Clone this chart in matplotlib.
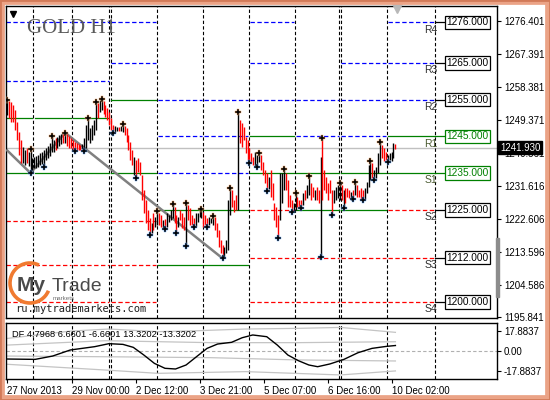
"""
Graphique GOLD H1 : barres horaires, niveaux pivots journaliers et indicateur DF
"""

import matplotlib
matplotlib.use("Agg")
import matplotlib.pyplot as plt
import matplotlib.transforms as mtransforms
from matplotlib.patches import Rectangle, Arc

# Barres H1 (index de barre = position en x)
hauts = [
    1254.9, 1254.6, 1254.4, 1253.5, 1252.2, 1248.9, 1246.2, 1244.0, 1242.1, 1241.3,
    1241.8, 1240.8, 1241.6, 1239.1, 1239.4, 1239.7, 1239.9, 1240.5, 1240.8, 1241.3,
    1241.8, 1242.4, 1243.2, 1245.1, 1244.0, 1244.6, 1244.8, 1245.4, 1245.7, 1245.7,
    1246.0, 1245.7, 1245.1, 1244.6, 1244.0, 1243.5, 1243.2, 1242.9, 1242.7, 1242.9,
    1244.6, 1248.1, 1250.0, 1247.3, 1248.1, 1249.5, 1254.4, 1254.1, 1254.9, 1255.2,
    1254.6, 1253.5, 1252.7, 1251.6, 1250.0, 1248.1, 1247.8, 1247.6, 1247.6, 1247.8,
    1248.4, 1247.8, 1247.3, 1245.4, 1243.5, 1241.3, 1239.4, 1238.6, 1239.1, 1238.0,
    1234.5, 1230.4, 1227.7, 1225.0, 1222.8, 1221.4, 1224.1, 1223.1, 1224.7, 1224.1,
    1223.6, 1222.2, 1222.5, 1224.1, 1223.6, 1225.0, 1226.5, 1225.8, 1223.6, 1223.1,
    1225.0, 1224.1, 1223.1, 1226.8, 1226.3, 1225.5, 1223.6, 1222.8, 1224.1, 1224.1,
    1225.0, 1225.2, 1224.4, 1223.6, 1222.8, 1223.1, 1222.8, 1223.3, 1223.1, 1221.4,
    1219.5, 1216.8, 1215.4, 1214.9, 1216.8, 1227.7, 1230.9, 1230.4, 1227.7, 1229.0,
    1251.7, 1249.5, 1248.6, 1247.6, 1244.8, 1244.0, 1241.8, 1240.5, 1239.4, 1240.8,
    1239.9, 1240.6, 1239.9, 1238.0, 1235.9, 1235.0, 1233.9, 1235.9, 1232.3, 1226.9,
    1225.8, 1223.6, 1235.0, 1235.0, 1236.1, 1235.0, 1233.1, 1229.0, 1227.7, 1226.9,
    1229.5, 1228.5, 1227.7, 1227.7, 1229.6, 1230.4, 1231.8, 1234.2, 1232.3, 1231.2,
    1230.4, 1231.2, 1230.4, 1239.4, 1244.5, 1235.9, 1233.9, 1232.3, 1233.1, 1230.4,
    1230.4, 1231.2, 1231.8, 1232.4, 1231.8, 1230.4, 1231.0, 1231.0, 1230.4, 1229.9,
    1230.4, 1232.5, 1231.8, 1230.4, 1231.0, 1230.4, 1231.0, 1232.6, 1237.2, 1238.3,
    1237.8, 1235.9, 1236.7, 1240.5, 1243.4, 1242.7, 1241.8, 1240.8, 1239.9, 1240.5,
    1240.8, 1243.2, 1243.0,
]
bas = [
    1250.8, 1250.0, 1248.9, 1248.9, 1246.7, 1244.0, 1239.9, 1237.8, 1237.8, 1237.2,
    1237.8, 1236.9, 1235.0, 1235.9, 1236.4, 1236.4, 1236.7, 1237.2, 1237.5, 1236.7,
    1238.6, 1239.1, 1239.7, 1240.8, 1240.8, 1241.3, 1241.8, 1242.4, 1242.9, 1243.2,
    1243.2, 1242.4, 1241.8, 1241.8, 1241.3, 1240.9, 1241.3, 1241.3, 1241.3, 1241.6,
    1241.0, 1241.8, 1244.0, 1243.2, 1244.0, 1245.4, 1246.7, 1250.0, 1251.6, 1252.2,
    1251.1, 1250.3, 1249.5, 1248.1, 1246.7, 1245.9, 1246.2, 1246.5, 1246.5, 1246.5,
    1246.2, 1245.4, 1243.5, 1241.3, 1238.6, 1237.2, 1234.5, 1233.7, 1235.3, 1234.5,
    1227.7, 1224.1, 1221.4, 1219.5, 1218.1, 1218.7, 1219.5, 1220.3, 1220.9, 1220.9,
    1220.3, 1220.1, 1219.7, 1220.3, 1221.7, 1222.2, 1222.8, 1221.4, 1218.6, 1220.3,
    1222.2, 1220.1, 1219.5, 1215.2, 1222.2, 1220.9, 1220.9, 1220.2, 1220.6, 1221.7,
    1223.1, 1222.8, 1220.3, 1220.9, 1220.2, 1220.9, 1221.4, 1220.9, 1219.5, 1217.6,
    1214.9, 1213.3, 1211.8, 1211.9, 1213.3, 1214.1, 1223.6, 1225.8, 1224.4, 1225.0,
    1225.0, 1243.2, 1242.1, 1244.0, 1240.5, 1238.6, 1237.8, 1238.0, 1237.2, 1236.9,
    1236.6, 1238.0, 1235.9, 1234.5, 1232.3, 1230.2, 1230.7, 1228.5, 1227.7, 1222.2,
    1220.3, 1217.3, 1222.2, 1226.9, 1230.4, 1230.4, 1225.8, 1225.8, 1224.3, 1224.7,
    1224.9, 1225.8, 1225.8, 1225.5, 1226.3, 1227.7, 1228.2, 1229.0, 1227.7, 1228.5,
    1227.7, 1227.7, 1226.9, 1212.3, 1227.7, 1230.4, 1229.6, 1227.7, 1229.6, 1223.5,
    1226.9, 1227.7, 1228.2, 1227.7, 1227.7, 1225.4, 1226.9, 1228.5, 1228.2, 1227.7,
    1227.9, 1229.0, 1228.5, 1228.5, 1227.7, 1227.7, 1228.0, 1229.6, 1231.2, 1233.1,
    1233.7, 1233.1, 1233.7, 1235.0, 1237.2, 1239.1, 1238.3, 1238.6, 1238.1, 1238.6,
    1238.3, 1239.1, 1241.6,
]
# 1 = barre haussière (noire), 0 = baissière (rouge)
sens = [
    1, 0, 0, 0, 0, 0, 0, 0, 1, 1,  0, 1, 1, 1, 1, 1, 1, 1, 1, 1,
    1, 1, 1, 1, 1, 0, 1, 1, 1, 0,  1, 0, 0, 0, 0, 0, 0, 0, 0, 1,
    1, 1, 1, 1, 1, 1, 1, 0, 1, 1,  0, 0, 0, 0, 0, 0, 1, 1, 0, 1,
    1, 0, 0, 0, 0, 0, 1, 0, 0, 0,  0, 0, 0, 0, 0, 1, 0, 1, 1, 0,
    0, 1, 0, 1, 1, 1, 1, 0, 0, 1,  0, 0, 0, 1, 0, 0, 0, 0, 1, 1,
    1, 1, 0, 0, 0, 1, 1, 1, 0, 0,  0, 0, 0, 1, 1, 1, 1, 0, 0, 0,
    1, 0, 0, 0, 0, 0, 0, 0, 0, 1,  1, 1, 0, 0, 0, 0, 1, 0, 0, 0,
    0, 0, 1, 1, 1, 0, 0, 0, 0, 1,  1, 0, 0, 0, 1, 0, 1, 1, 0, 0,
    1, 0, 0, 1, 0, 0, 0, 0, 0, 0,  1, 1, 1, 1, 0, 1, 0, 0, 0, 1,
    0, 1, 0, 0, 0, 0, 1, 1, 1, 1,  0, 1, 1, 1, 1, 0, 0, 0, 1, 1,
    1, 1, 0,
]
prix_actuel = 1241.93

# Fractales (index des barres)
fractales_hautes = [0, 12, 23, 30, 42, 46, 49, 60, 78, 86, 93, 101, 107, 116, 120,
                    131, 144, 150, 157, 164, 173, 181, 189, 194]
fractales_basses = [12, 19, 35, 40, 55, 67, 74, 82, 88, 93, 97, 104, 112, 126, 130,
                    135, 141, 148, 153, 163, 169, 175, 180, 185, 191, 198]

# ZigZag gris
zigzag_x = [-0.6, 12, 30, 112]
zigzag_prix = [1241.4, 1235.0, 1246.0, 1211.8]

# Séparateurs de jours et bornes des journées
separateurs = [13.4, 33.6, 52.9, 53.9, 77.9, 101.8, 125.8, 149.7, 172.7, 173.7, 197.7, 222.7]
bornes_jours = [-0.8, 13.4, 33.6, 53.4, 77.9, 101.8, 125.8, 149.7, 173.2, 197.7, 222.7]

# Niveaux pivots : (prix, type) R = résistance, P = pivot proche, S = support
niv_a = [(1276, 'R'), (1260.1, 'R'), (1250, 'P'), (1235, 'P'), (1222, 'S'), (1210, 'S'), (1200, 'S')]
niv_b = [(1276, 'R'), (1265, 'R'), (1255, 'P'), (1235, 'P'), (1222, 'S'), (1210, 'S'), (1200, 'S')]
niv_c = [(1255, 'R'), (1245, 'R'), (1235, 'R'), (1225, 'P'), (1210, 'P')]
niv_d = [(1276, 'R'), (1265, 'R'), (1255, 'R'), (1245, 'P'), (1235, 'P'), (1225, 'S'), (1212, 'S'), (1200, 'S')]
niv_e = [(1255, 'R'), (1245, 'R'), (1235, 'P'), (1225, 'P'), (1212, 'S'), (1200, 'S')]
niv_f = [(1265, 'R'), (1255, 'R'), (1245, 'R'), (1235, 'P'), (1225, 'P'), (1212, 'S'), (1200, 'S')]
niv_g = [(1276, 'R'), (1265, 'R'), (1255, 'R'), (1245, 'P'), (1235, 'P'), (1225, 'S'), (1212, 'S'), (1200, 'S')]
niveaux_jours = [niv_a, niv_a, niv_a, niv_b, niv_c, niv_c, niv_d, niv_e, niv_f, niv_g]
noms_niveaux = ['R4', 'R3', 'R2', 'R1', 'S1', 'S2', 'S3', 'S4']

# Echelle de prix
graduations_prix = [1276.401, 1267.391, 1258.381, 1249.371, 1240.361,
                    1231.616, 1222.606, 1213.596, 1204.586, 1195.841]

# Indicateur DF
df_x = [0, 14.4, 23.5, 32.7, 45.4, 52.8, 60.1, 65.5, 71, 76.5, 82, 87.5, 93, 98.4,
        103.9, 109.4, 116.7, 122.2, 127.7, 135, 140.5, 146, 151.4, 156.9, 161.5,
        167.9, 175.2, 182.5, 189.8, 197.1, 202]
df_val = [-7.0, -7.3, -4.4, 0.9, 3.8, 6.4, 5.8, 3.2, -3.5, -10.8, -15.1, -15.7, -12.2,
          -5.0, 2.3, 6.1, 7.6, 11.6, 14.0, 12.5, 5.2, -3.5, -8.4, -12.2, -13.7, -11.3,
          -7.3, -1.5, 2.3, 4.0, 4.8]
bande_hx = [0, 32.7, 52.8, 78.3, 98.4, 124, 151.4, 173.4, 202]
bande_h = [11.0, 17.4, 19.2, 16.9, 17.7, 19.2, 19.8, 20.6, 16.3]
bande_mx = [0, 50.9, 105.7, 151.4, 202]
bande_mh = [5.2, 9.0, 7.3, 7.3, 8.1]
bande_mb = [-4.4, -5.0, -5.8, -7.8, -8.7]
bande_bx = [0, 50.9, 78.3, 124, 173.4, 202]
bande_b = [-11.6, -16.6, -19.5, -18.0, -20.9, -17.4]
graduations_df = [17.8837, 0.0, -17.8837]
etiquettes_df = ['17.8837', '0.00', '-17.8837']

# Axe des temps
dates_x = [0, 33.6, 66.9, 100.3, 133.6, 166.9, 200.3]
dates_lab = ['27 Nov 2013', '29 Nov 00:00', '2 Dec 12:00', '3 Dec 21:00',
             '5 Dec 07:00', '6 Dec 16:00', '10 Dec 02:00']

W, H = 550, 400
COULEURS = {'R': '#0000ff', 'P': '#008000', 'S': '#ff0000'}
POLICE = 'Liberation Sans'


def zone(x0, y0, x1, y1):
    """Rectangle en pixels (origine en haut à gauche) -> coordonnées figure."""
    return [x0 / W, 1 - y1 / H, (x1 - x0) / W, (y1 - y0) / H]


def tracer_prix(ax):
    """Barres, fractales, zigzag, niveaux et étiquettes de la fenêtre principale."""
    ax.axhline(prix_actuel, color='#c0c0c0', lw=1.0, zorder=1)

    for s in separateurs:
        ax.axvline(s, color='black', lw=0.8, dashes=(3, 2), zorder=2)

    # niveaux pivots jour par jour
    n = len(niveaux_jours)
    for k in range(n):
        debut = bornes_jours[k] + (0.7 if k > 0 else 0)
        fin = bornes_jours[k + 1] - (0.7 if k < n - 1 else 0)
        for prix, typ in niveaux_jours[k]:
            if typ == 'P':
                ax.plot([debut, fin], [prix, prix], color=COULEURS[typ], lw=0.9, zorder=2)
            else:
                ax.plot([debut, fin], [prix, prix], color=COULEURS[typ], lw=0.9,
                        dashes=(3.5, 2), zorder=2)

    ax.plot(zigzag_x, zigzag_prix, color='#808080', lw=1.8, zorder=3,
            solid_capstyle='butt')

    couleurs = ['black' if s else '#ff0000' for s in sens]
    x = list(range(len(hauts)))
    ax.vlines(x, bas, hauts, colors=couleurs, lw=1.0, zorder=4)

    ax.plot(fractales_hautes, [hauts[i] for i in fractales_hautes], 'P', ms=4,
            color='black', mec='#f0a060', mew=0.3, zorder=5)
    ax.plot(fractales_basses, [bas[i] for i in fractales_basses], 'P', ms=4,
            color='black', mec='#60a0f0', mew=0.3, zorder=5)

    # étiquettes du jour courant
    melange = mtransforms.blended_transform_factory(ax.transAxes, ax.transData)
    fin_jour = bornes_jours[-1]
    for nom, (prix, typ) in zip(noms_niveaux, niv_g):
        vert = typ == 'P'
        ax.plot([fin_jour, fin_jour + 4.6], [prix, prix],
                color=COULEURS[typ] if vert else 'black', lw=0.9, zorder=2)
        ax.text(0.94, prix, f'{prix:.3f}', transform=melange, ha='center', va='center',
                fontsize=7.3, family=POLICE, color='#008000' if vert else 'black',
                bbox=dict(boxstyle='square,pad=0.18', fc='white',
                          ec='#008000' if vert else 'black', lw=0.9), zorder=6)
        ax.annotate(nom, xy=(0.878, prix), xycoords=melange, xytext=(0, -5.2),
                    textcoords='offset points', ha='right', va='center', fontsize=7.5,
                    family=POLICE, color='#4a5a30' if vert else '#303030', zorder=6)

    # prix courant sur l'échelle
    ax.text(1.006, prix_actuel, f'{prix_actuel:.3f}', transform=melange, ha='left',
            va='center', fontsize=7, family=POLICE, color='white', clip_on=False,
            bbox=dict(boxstyle='square,pad=0.15', fc='black', ec='black'), zorder=10)

    ax.set_yticks(graduations_prix)
    ax.set_yticklabels([f'{v:.3f}' for v in graduations_prix])
    ax.yaxis.tick_right()
    ax.tick_params(axis='y', labelsize=7, length=3, pad=2, width=0.8)
    ax.tick_params(axis='x', bottom=False, labelbottom=False)
    for lab in ax.get_yticklabels():
        lab.set_family(POLICE)

    # repères de la fenêtre
    ax.plot([0.0143], [0.974], 'v', ms=4.5, color='black', transform=ax.transAxes,
            clip_on=False, zorder=7)
    ax.plot([0.796], [0.992], 'v', ms=7, color='#b8b8b8', transform=ax.transAxes,
            clip_on=False, zorder=7)


def tracer_df(ax):
    """Fenêtre de l'indicateur DF et axe des temps."""
    for s in separateurs:
        ax.axvline(s, color='black', lw=0.8, dashes=(3, 2), zorder=2)
    ax.axhline(0, color='#b0b0b0', lw=0.8, dashes=(3, 2), zorder=1)
    gris = '#c4c4c4'
    ax.plot(bande_hx, bande_h, color=gris, lw=0.9)
    ax.plot(bande_mx, bande_mh, color=gris, lw=0.9)
    ax.plot(bande_mx, bande_mb, color=gris, lw=0.9)
    ax.plot(bande_bx, bande_b, color=gris, lw=0.9)
    ax.plot(df_x, df_val, color='black', lw=1.0, zorder=3)

    ax.text(0.012, 0.80, 'DF 4.7968 6.6601 -6.6601 13.3202 -13.3202',
            transform=ax.transAxes, fontsize=6.7, family=POLICE, va='center')

    ax.set_yticks(graduations_df)
    ax.set_yticklabels(etiquettes_df)
    ax.yaxis.tick_right()
    ax.tick_params(axis='y', labelsize=7, length=3, pad=2, width=0.8)

    ax.set_xticks(dates_x)
    ax.set_xticklabels(dates_lab)
    ax.tick_params(axis='x', labelsize=7, length=3, pad=2, width=0.8)
    for lab in ax.get_xticklabels() + ax.get_yticklabels():
        lab.set_family(POLICE)
    for lab in ax.get_xticklabels():
        lab.set_ha('left')


def main():
    fig = plt.figure(figsize=(W / 100, H / 100), dpi=100, facecolor='white')

    ax = fig.add_axes(zone(6, 6, 497, 318))
    ax2 = fig.add_axes(zone(6, 323.3, 497, 379.3))
    for a in (ax, ax2):
        a.set_xlim(-0.78, 254.9)
        for sp in a.spines.values():
            sp.set_linewidth(1.0)
    ax.set_ylim(1195.57, 1280.48)
    ax2.set_ylim(-24.7, 24.2)

    tracer_prix(ax)
    tracer_df(ax2)

    # titre
    fig.text(27 / W, 1 - 33 / H, 'GOLD H1', family='Liberation Serif', fontsize=15,
             color='#5a5a5a', va='baseline')

    # logo
    fig.patches.append(Arc((30 / W, 1 - 283 / H), 40 / W, 40 / H, theta1=70, theta2=330,
                           transform=fig.transFigure, color='#f07a30', lw=2.6))
    fig.text(17 / W, 1 - 291 / H, 'My', family=POLICE, weight='bold', fontsize=15,
             color='#4a4a4a', va='baseline')
    fig.text(52 / W, 1 - 291 / H, 'Trade', family=POLICE, fontsize=14,
             color='#4a4a4a', va='baseline')
    fig.text(53 / W, 1 - 300 / H, 'markets', family=POLICE, fontsize=4.5,
             color='#707070', va='baseline')
    fig.text(15 / W, 1 - 312 / H, 'ru.mytrademarkets.com', family='DejaVu Sans Mono',
             fontsize=7.5, color='#202020', va='baseline')

    # ascenseur gris à droite
    fig.patches.append(Rectangle((496 / W, 1 - 297 / H), 3 / W, 59 / H,
                                 transform=fig.transFigure, color='#8c8c8c', zorder=8))

    # cadre orangé
    fig.patches.append(Rectangle((0, 0), 1, 1, transform=fig.transFigure, fill=False,
                                 ec='#eba386', lw=7, zorder=20))
    fig.patches.append(Rectangle((0, 0), 1, 1, transform=fig.transFigure, fill=False,
                                 ec='#d27a58', lw=2, zorder=21))

    fig.savefig('out.png', dpi=100)


if __name__ == "__main__":
    main()
